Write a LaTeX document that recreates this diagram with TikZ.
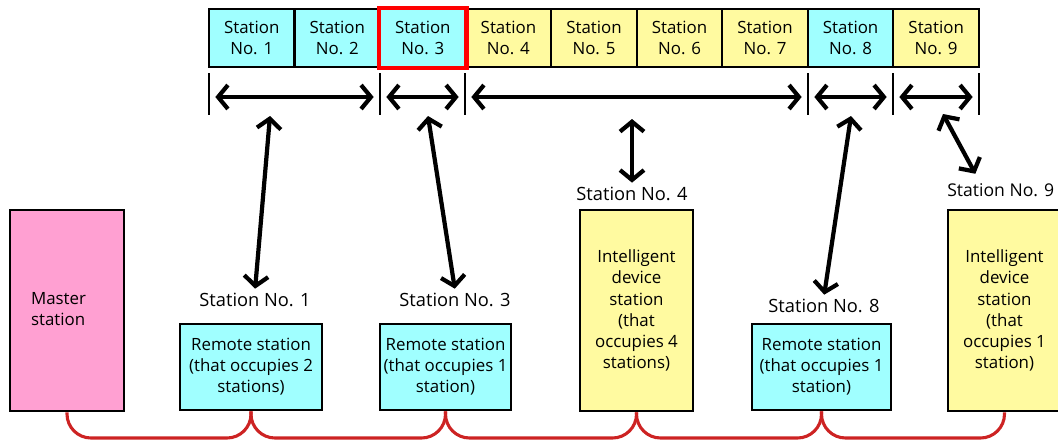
\documentclass[tikz,border=0pt]{standalone}
\usepackage{fontspec}
\setmainfont{Open Sans}
\usepackage{xcolor}
\usetikzlibrary{arrows.meta}

\definecolor{cellcyan}{RGB}{160,255,255}
\definecolor{cellyellow}{RGB}{255,250,160}
\definecolor{masterpink}{RGB}{255,160,210}
\definecolor{cablered}{RGB}{205,35,35}

\begin{document}
\begin{tikzpicture}[x=0.025cm, y=-0.025cm,
    >={Straight Barb[length=7pt,width=17pt]},
    cell/.style={draw, line width=1.5pt, minimum width=2.139cm, minimum height=1.45cm,
        inner sep=0pt, align=center, font=\fontsize{12}{14.5}\selectfont},
    unit/.style={draw, line width=2pt, inner sep=0pt, align=center,
        font=\fontsize{12}{15}\selectfont},
    tag/.style={inner sep=2pt, font=\fontsize{13}{15}\selectfont},
    tick/.style={line width=1.4pt},
    span/.style={line width=3pt, <->, shorten <=4.5pt, shorten >=4.5pt},
    link/.style={line width=3pt, <->, shorten >=1pt},
    cable/.style={cablered, line width=2.2pt, rounded corners=0.6cm}]
    \useasboundingbox (0,0) rectangle (1058,441);

    % Station numbers in the link
    \foreach \i/\fc in {1/cellcyan,2/cellcyan,3/cellcyan,4/cellyellow,5/cellyellow,
                        6/cellyellow,7/cellyellow,8/cellcyan,9/cellyellow}
        \node[cell, fill=\fc] (c\i) at ({209+85.55*(\i-0.5)},38) {Station\\No. \i};
    \draw[red, line width=3.3pt] (c3.south west) rectangle (c3.north east);

    % Ranges of occupied stations
    \foreach \n/\x in {0/209,2/380,3/465,7/808,8/893,9/979} {
        \coordinate (t\n) at (\x,97);
        \draw[tick] (\x,73) -- (\x,115);
    }
    \foreach \a/\b in {0/2,2/3,3/7,7/8,8/9}
        \draw[span] (t\a) -- (t\b);

    % Stations
    \node[unit, fill=masterpink, minimum width=2.85cm, minimum height=5.025cm] (master) at (67,310.5)
        {\begin{tabular}{@{}l@{\hspace{12pt}}}Master\\station\end{tabular}};
    \node[unit, fill=cellcyan, minimum width=3.55cm, minimum height=2.15cm] (rs1) at (251,367) {Remote station\\(that occupies 2\\stations)};
    \node[unit, fill=cellcyan, minimum width=3.275cm, minimum height=2.15cm] (rs3) at (445.5,367) {Remote station\\(that occupies 1\\station)};
    \node[unit, fill=cellyellow, minimum width=2.825cm, minimum height=5.025cm] (ids4) at (636.5,310.5) {Intelligent\\device\\station\\(that\\occupies 4\\stations)};
    \node[unit, fill=cellcyan, minimum width=3.475cm, minimum height=2.15cm] (rs8) at (821.5,367) {Remote station\\(that occupies 1\\station)};
    \node[unit, fill=cellyellow, minimum width=2.825cm, minimum height=5.025cm] (ids9) at (1004.5,310.5) {Intelligent\\device\\station\\(that\\occupies 1\\station)};

    % Station number labels
    \node[tag] (l1) at (255,300) {Station No. 1};
    \node[tag] (l3) at (455,300) {Station No. 3};
    \node[tag] (l4) at (632,194) {Station No. 4};
    \node[tag] (l8) at (824,306) {Station No. 8};
    \node[tag, anchor=west, inner sep=0pt, font=\fontsize{12.5}{15}\selectfont] (l9) at (947,190) {Station No. 9};

    % Arrows to the ranges
    \coordinate (s1) at (270,116);
    \coordinate (s3) at (428,116);
    \coordinate (s4) at (632,119);
    \coordinate (s8) at (851,116);
    \coordinate (s9) at (943,114);
    \draw[link] (s1) -- (l1.north);
    \draw[link] (s3) -- (l3.north);
    \draw[link] (s4) -- (l4.north);
    \draw[link] (s8) -- (l8.north);
    \draw[link] (s9) -- (976,175);

    % Cable
    \coordinate (bus) at (0,438);
    \foreach \a/\b in {master/rs1,rs1/rs3,rs3/ids4,ids4/rs8,rs8/ids9}
        \draw[cable] (\a.south) |- (\b.south |- bus) -- (\b.south);
\end{tikzpicture}
\end{document}
